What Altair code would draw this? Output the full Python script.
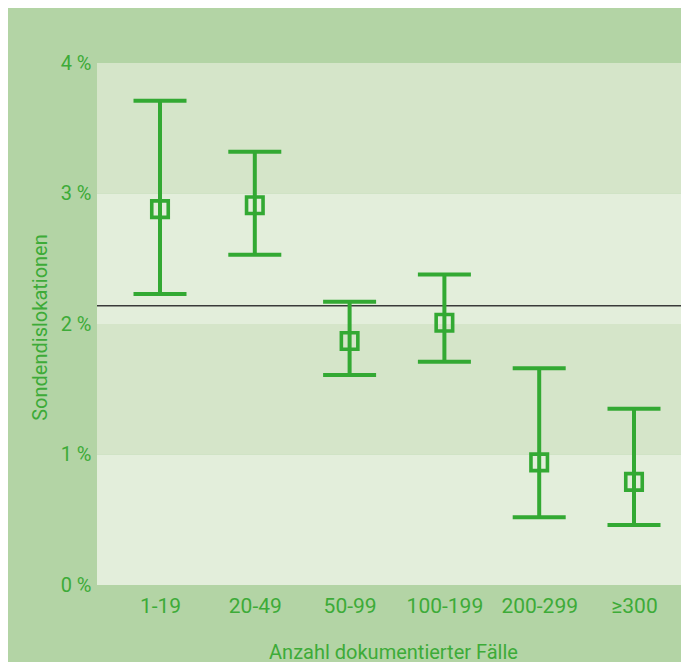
import altair as alt
import pandas as pd

# Data
categories = ["1-19", "20-49", "50-99", "100-199", "200-299", "≥300"]
mid_values = [2.88, 2.91, 1.87, 2.01, 0.94, 0.79]
low_values = [2.23, 2.53, 1.61, 1.71, 0.52, 0.46]
high_values = [3.71, 3.32, 2.17, 2.38, 1.66, 1.35]
reference_value = 2.14
band_lo = [0, 1, 2, 3]
band_hi = [1, 2, 3, 4]
band_shade = ["light", "dark", "light", "dark"]
y_ticks = [0, 1, 2, 3, 4]

GREEN = "#33a933"
TEXT_GREEN = "#3dab38"
PANEL = "#b3d4a5"
W, H = 584, 522
FONT = "Roboto"

df = pd.DataFrame({"cat": categories, "mid": mid_values, "low": low_values, "high": high_values})
bands = pd.DataFrame({"lo": band_lo, "hi": band_hi, "shade": band_shade})
ref = pd.DataFrame({"v": [reference_value]})

xenc = alt.X(
    "cat:N",
    sort=categories,
    scale=alt.Scale(type="point", domain=categories, range=[63, 537], padding=0),
    axis=alt.Axis(
        title="Anzahl dokumentierter Fälle",
        labelAngle=0,
        labelFontSize=21,
        labelBaseline="alphabetic",
        labelPadding=27,
        titleBaseline="alphabetic",
        titleY=73,
        titleX=296,
    ),
)
yscale = alt.Scale(domain=[0, 4], nice=False, zero=True)
yaxis = alt.Axis(
    title="Sondendislokationen",
    values=y_ticks,
    labelExpr="datum.value + ' %'",
    labelPadding=6,
    titleX=-51,
    titleY=264,
    titleBaseline="alphabetic",
    titleAlign="center",
    titleAngle=270,
)

band_layer = alt.Chart(bands).mark_rect().encode(
    y=alt.Y("lo:Q", scale=yscale, axis=yaxis),
    y2="hi:Q",
    x=alt.value(0),
    x2=alt.value(W),
    color=alt.Color("shade:N", scale=alt.Scale(domain=["light", "dark"], range=["#e3eedb", "#d5e5c9"]), legend=None),
)

ref_rule = alt.Chart(ref).mark_rule(color="#3a3a3a", strokeWidth=1.5).encode(
    y=alt.Y("v:Q", scale=yscale), x=alt.value(0), x2=alt.value(W)
)

err = alt.Chart(df).mark_rule(color=GREEN, strokeWidth=4).encode(
    x=xenc, y=alt.Y("low:Q", scale=yscale), y2="high:Q"
)
cap_hi = alt.Chart(df).mark_tick(color=GREEN, size=53, thickness=4, opacity=1).encode(
    x=xenc, y=alt.Y("high:Q", scale=yscale)
)
cap_lo = alt.Chart(df).mark_tick(color=GREEN, size=53, thickness=4, opacity=1).encode(
    x=xenc, y=alt.Y("low:Q", scale=yscale)
)
box = alt.Chart(df).mark_point(shape="square", filled=False, size=272, strokeWidth=3.6, color=GREEN, opacity=1).encode(
    x=xenc, y=alt.Y("mid:Q", scale=yscale)
)

chart = alt.layer(band_layer, ref_rule, err, cap_hi, cap_lo, box).properties(
    width=W,
    height=H,
    autosize=alt.AutoSizeParams(type="none"),
    padding={"left": 89, "top": 55, "right": 0, "bottom": 77},
    background=PANEL,
).configure_view(stroke=None).configure_axis(
    domain=False,
    ticks=False,
    grid=False,
    labelFont=FONT,
    labelFontSize=20,
    labelColor=TEXT_GREEN,
    titleFont=FONT,
    titleFontSize=20,
    titleFontWeight="normal",
    titleColor=TEXT_GREEN,
)

chart.save("out.html", embed_options={"renderer": "svg", "actions": False})
